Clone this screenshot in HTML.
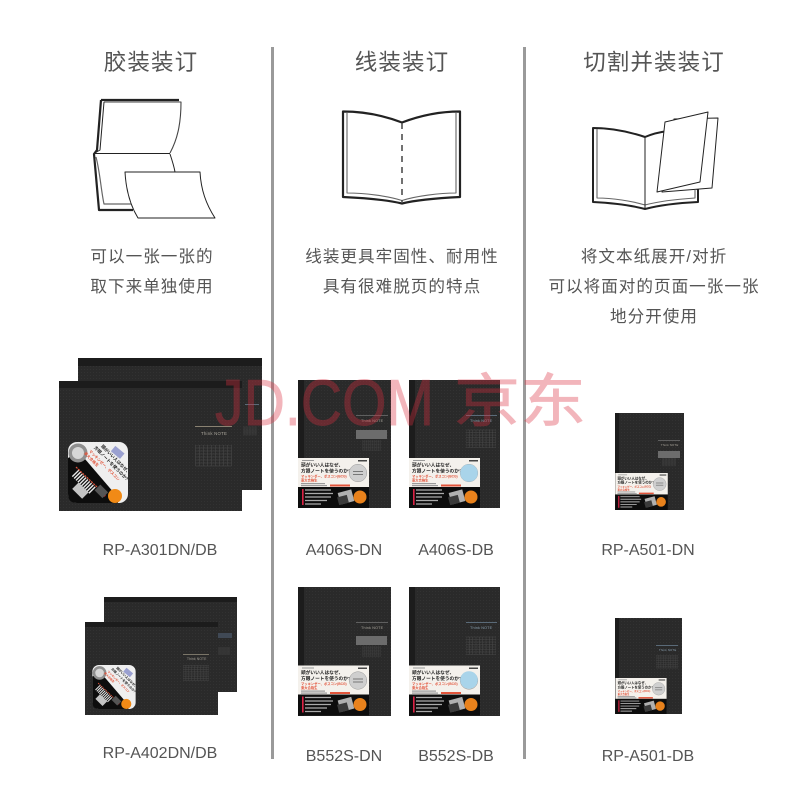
<!DOCTYPE html>
<html lang="zh">
<head>
<meta charset="utf-8">
<title>装订方式</title>
<style>
html,body{margin:0;padding:0;background:#fff}
svg{display:block}
text{font-family:"Liberation Sans","Noto Sans CJK SC",sans-serif;fill:#4a4a4a;text-anchor:middle}
.t{font-size:22.5px;letter-spacing:1.1px;fill:#555}
.d{font-size:16.6px;letter-spacing:1px;fill:#555}
.m{font-size:16px;fill:#555}
.n{font-size:3.7px;letter-spacing:.2px;fill:#a8a49a;text-anchor:start}
.b{text-anchor:start;font-weight:700;fill:#1c1c1c}
.r{text-anchor:start;font-weight:700;fill:#e2543b}
.w{text-anchor:start;fill:#ddd}
.wm{fill:#dc2f40;stroke:#dc2f40;stroke-width:.9;text-anchor:start}
</style>
</head>
<body>
<svg width="800" height="800" viewBox="0 0 800 800" xmlns="http://www.w3.org/2000/svg">
<defs>
<filter id="soft" x="-2%" y="-2%" width="104%" height="104%"><feGaussianBlur stdDeviation=".35"/></filter>
<pattern id="g" width="3" height="3" patternUnits="userSpaceOnUse"><rect width="3" height="3" fill="#2c2c2c"/><rect width="1" height="1" fill="#303030"/></pattern>
<symbol id="sticker" viewBox="0 0 60 61">
  <rect width="60" height="61" rx="9" fill="#efefef"/>
  <path d="M0 16 L5 13 L17 17 L47 52 L50 61 H9 Q0 61 0 52Z" fill="#111"/>
  <circle cx="10" cy="11" r="9.500" fill="#8f8f8f"/><circle cx="10" cy="11" r="6" fill="#d6d6d6"/>
  <g transform="rotate(45 32 8)">
    <text class="b" x="30" y="5" font-size="4.4">頭がいい人はなぜ、</text>
    <text class="b" x="26" y="11" font-size="4.4">方眼ノートを使うのか?</text>
    <text class="r" x="25" y="17" font-size="3.8">マッキンゼー、ボスコン</text>
    <text class="r" x="23" y="22" font-size="3.8">東大合格生</text>
  </g>
  <rect x="44" y="7" width="12" height="7" fill="#9aa0d0" transform="rotate(40 50 10)"/>
  <path d="M8 25 L29 45" stroke="#e2543b" stroke-width="1.2" stroke-dasharray="2 1"/>
  <path d="M7 31 L25 49" stroke="#e8e8e8" stroke-width="9" stroke-dasharray="1.4 1.2"/>
  <circle cx="47" cy="54" r="7" fill="#f18a12"/>
  <circle cx="36" cy="53" r="1.6" fill="#e33"/>
  <rect x="5" y="44" width="14" height="9" fill="#c4c4c4" transform="rotate(45 12 49)"/>
  <rect x="28" y="45" width="11" height="8" fill="#555" transform="rotate(45 33 49)"/>
</symbol>
<symbol id="band" viewBox="0 0 71 50">
  <rect width="71" height="29" fill="#f4f1ec"/>
  <rect y="29" width="71" height="21" fill="#111"/>
  <rect x="4" y="2" width="12" height="1" fill="#999"/>
  <rect x="60" y="2" width="9" height="1.500" fill="#444"/>
  <text class="b" x="3" y="8.500" font-size="4.7">頭がいい人はなぜ、</text>
  <text class="b" x="3" y="14.500" font-size="4.7">方眼ノートを使うのか?</text>
  <text class="r" x="3" y="19.500" font-size="3.300">マッキンゼー、ボスコン(BCG)</text>
  <text class="r" x="3" y="23.400" font-size="3.300">東大合格生</text>
  <rect x="3" y="25" width="24" height="1.200" fill="#999"/>
  <rect x="3" y="27" width="26" height="1.200" fill="#999"/>
  <rect x="32" y="26.500" width="20" height="2" fill="#e2543b"/>
  <circle cx="60" cy="15" r="8.800" fill="#cfcfcf" stroke="#999" stroke-width=".5"/>
  <rect x="55" y="13" width="10" height="1" fill="#777"/>
  <rect x="55" y="16" width="10" height="1" fill="#777"/>
  <rect x="4" y="31" width="1.600" height="16" fill="#d24"/>
  <path d="M7 32h26M7 35.500h28M7 39h26M7 42.500h22M7 46h16" stroke="#aaa" stroke-width="1.300"/>
  <rect x="41" y="33" width="14" height="12" fill="#b0b0b0" transform="rotate(-15 48 39)"/>
  <rect x="40" y="38" width="10" height="8" fill="#3b3b3b" transform="rotate(-15 45 42)"/>
  <circle cx="62" cy="39" r="6.500" fill="#e9821a"/>
</symbol>
<symbol id="grid" viewBox="0 0 36 24">
  <g opacity=".5">
  <path d="M0 0h36M0 3h36M0 6h36M0 9h36M0 12h36M0 15h36M0 18h36M0 21h36" stroke="#6b6b6b" stroke-width=".5"/>
  <path d="M0 0v21M4 0v21M8 0v21M12 0v21M16 0v21M20 0v21M24 0v21M28 0v21M32 0v21M36 0v21" stroke="#6b6b6b" stroke-width=".5"/>
  </g>
</symbol>
</defs>

<rect width="800" height="800" fill="#fff"/>

<!-- dividers -->
<rect x="271" y="47" width="3" height="712" fill="#9a9a9a"/>
<rect x="523" y="47" width="3" height="712" fill="#9a9a9a"/>

<!-- titles -->
<text class="t" x="151" y="70">胶装装订</text>
<text class="t" x="402" y="70">线装装订</text>
<text class="t" x="654" y="70">切割并装装订</text>

<!-- icon 1 -->
<g fill="none" stroke="#222" stroke-linejoin="round">
  <path d="M101 100 H179 M101 100 L97 150 L94 154 L99 210 H133" stroke-width="2.200"/>
  <path d="M104 102 H181 C181 125 177 140 170 153" stroke="#444" stroke-width="1.100"/>
  <path d="M104 102 L100 150 L94 153.500 H170" stroke-width="1"/>
  <path d="M96 157 C100 172 101 190 104 204 H131" stroke="#666" stroke-width="1.200"/>
  <path d="M170 154 C172 160 174 166 175 172" stroke-width="1"/>
  <path d="M125 172 H200 C201 190 206 204 215 218 H138 C130 205 126 190 125 172Z" fill="#fff" stroke-width="1"/>
</g>

<!-- icon 2 -->
<g fill="none" stroke="#222" stroke-linejoin="round">
  <path d="M343 111.500 C365 111.500 385 116 402 122.500 C419 116 440 111.500 460 111.500 V197 C440 198 418 199.500 402 203.500 C385 199.500 365 198 343 197Z" stroke-width="2.200" fill="#fff"/>
  <path d="M347 113 V193 C365 193 388 196 402 200.500 C416 196 440 193 456 193 V113" stroke="#666" stroke-width="1.100"/>
  <path d="M402 123 V202" stroke="#444" stroke-width="1.500" stroke-dasharray="6 5"/>
</g>

<!-- icon 3 -->
<g fill="none" stroke="#222" stroke-linejoin="round">
  <path d="M593 128 C612 128 630 132 645 137 C652 134 660 132 668 131 L698 190 V202 C678 203 660 205 645 209 C630 205 612 203 593 202Z" stroke-width="2" fill="#fff"/>
  <path d="M597 129 V198 C612 198 632 201 645 205 C660 201 680 199 695 198 V190" stroke="#666" stroke-width="1.100"/>
  <path d="M645 137 V208" stroke-width="1"/>
  <path d="M674 119 L718 118 L712 188 L662 192Z" fill="#fff" stroke-width="1"/>
  <path d="M665 122 L708 112 L700 182 L657 192Z" fill="#fff" stroke-width="1"/>
</g>

<!-- descriptions -->
<text class="d" x="152" y="262">可以一张一张的</text>
<text class="d" x="152" y="292">取下来单独使用</text>
<text class="d" x="402" y="262">线装更具牢固性、耐用性</text>
<text class="d" x="402" y="292">具有很难脱页的特点</text>
<text class="d" x="654" y="262">将文本纸展开/对折</text>
<text class="d" x="654" y="292">可以将面对的页面一张一张</text>
<text class="d" x="654" y="322">地分开使用</text>

<g filter="url(#soft)">
<!-- RP-A301 -->
<g>
  <rect x="78" y="358" width="184" height="132" fill="url(#g)"/>
  <rect x="78" y="358" width="184" height="8" fill="#1c1c1c"/>
  <rect x="245" y="404" width="14" height="1" fill="#5a6a78"/>
  <use href="#grid" x="243" y="424" width="14" height="15"/>
  <rect x="59" y="381" width="183" height="130" fill="url(#g)"/>
  <rect x="59" y="381" width="183" height="7" fill="#1c1c1c"/>
  <rect x="195" y="426" width="37" height="1" fill="#8a8272"/>
  <text class="n" x="201" y="435" style="font-size:4.400px">Think NOTE</text>
  <use href="#grid" x="195" y="445" width="37" height="24"/>
  <use href="#sticker" x="67" y="442" width="62" height="61"/>
</g>

<!-- RP-A402 -->
<g>
  <rect x="104" y="597" width="133" height="95" fill="url(#g)"/>
  <rect x="104" y="597" width="133" height="5" fill="#1c1c1c"/>
  <rect x="218" y="633" width="14" height="5" fill="#3f4a55"/>
  <use href="#grid" x="218" y="644" width="12" height="15"/>
  <rect x="85" y="622" width="133" height="93" fill="url(#g)"/>
  <rect x="85" y="622" width="133" height="5" fill="#1c1c1c"/>
  <rect x="183" y="654" width="26" height="1" fill="#7a7468"/>
  <text class="n" x="187" y="660" style="font-size:3.200px">Think NOTE</text>
  <use href="#grid" x="183" y="665" width="26" height="18"/>
  <use href="#sticker" x="92" y="665" width="44" height="44"/>
</g>

<!-- A406 DN -->
<g>
  <rect x="298" y="380" width="93" height="128" fill="url(#g)"/>
  <rect x="298" y="380" width="6" height="128" fill="#1e1e1e"/>
  <rect x="356" y="415" width="32" height="1" fill="#5e5e5e"/>
  <text class="n" x="361" y="422">Think NOTE</text>
  <rect x="356" y="430" width="31" height="9" fill="#6c6c6c"/>
  <use href="#grid" x="356" y="440" width="31" height="12"/>
  <use href="#band" x="298" y="458" width="71" height="50"/>
</g>
<!-- A406 DB -->
<g>
  <rect x="409" y="380" width="91" height="128" fill="url(#g)"/>
  <rect x="409" y="380" width="6" height="128" fill="#1e1e1e"/>
  <rect x="466" y="415" width="31" height="1" fill="#5a6a78"/>
  <text class="n" x="470" y="422" style="fill:#8aa0b0">Think NOTE</text>
  <use href="#grid" x="466" y="429" width="30" height="22"/>
  <use href="#band" x="409" y="458" width="71" height="50"/>
  <circle cx="469" cy="473" r="8.800" fill="#a9d4ea"/>
</g>
<!-- B552 DN -->
<g>
  <rect x="298" y="587" width="93" height="129" fill="url(#g)"/>
  <rect x="298" y="587" width="6" height="129" fill="#1e1e1e"/>
  <rect x="356" y="622" width="32" height="1" fill="#5e5e5e"/>
  <text class="n" x="361" y="629">Think NOTE</text>
  <rect x="356" y="636" width="31" height="9" fill="#6c6c6c"/>
  <use href="#grid" x="356" y="646" width="31" height="12"/>
  <use href="#band" x="298" y="665" width="71" height="51"/>
</g>
<!-- B552 DB -->
<g>
  <rect x="409" y="587" width="91" height="129" fill="url(#g)"/>
  <rect x="409" y="587" width="6" height="129" fill="#1e1e1e"/>
  <rect x="466" y="622" width="31" height="1" fill="#5a6a78"/>
  <text class="n" x="470" y="629" style="fill:#8aa0b0">Think NOTE</text>
  <use href="#grid" x="466" y="636" width="30" height="22"/>
  <use href="#band" x="409" y="665" width="71" height="51"/>
  <circle cx="469" cy="680" r="8.800" fill="#a9d4ea"/>
</g>
<!-- A501 DN -->
<g>
  <rect x="615" y="413" width="69" height="97" fill="url(#g)"/>
  <rect x="615" y="413" width="4" height="97" fill="#1e1e1e"/>
  <rect x="658" y="440" width="22" height="1" fill="#5e5e5e"/>
  <text class="n" x="661" y="446" style="font-size:2.800px">Think NOTE</text>
  <rect x="658" y="451" width="22" height="7" fill="#6c6c6c"/>
  <use href="#grid" x="658" y="458" width="22" height="9"/>
  <use href="#band" x="615" y="473" width="53" height="37"/>
</g>
<!-- A501 DB -->
<g>
  <rect x="615" y="618" width="67" height="96" fill="url(#g)"/>
  <rect x="615" y="618" width="4" height="96" fill="#1e1e1e"/>
  <rect x="656" y="645" width="22" height="1" fill="#5a6a78"/>
  <text class="n" x="659" y="651" style="font-size:2.800px;fill:#8aa0b0">Think NOTE</text>
  <use href="#grid" x="656" y="655" width="22" height="15"/>
  <use href="#band" x="615" y="678" width="52" height="36"/>
</g>
</g>

<!-- model labels -->
<text class="m" x="160" y="555">RP-A301DN/DB</text>
<text class="m" x="344" y="555">A406S-DN</text>
<text class="m" x="456" y="555">A406S-DB</text>
<text class="m" x="648" y="555">RP-A501-DN</text>
<text class="m" x="160" y="758">RP-A402DN/DB</text>
<text class="m" x="344" y="761">B552S-DN</text>
<text class="m" x="456" y="761">B552S-DB</text>
<text class="m" x="648" y="761">RP-A501-DB</text>

<!-- watermark -->
<g opacity=".35">
<text class="wm" x="215" y="425" style="font-size:65px" textLength="219" lengthAdjust="spacingAndGlyphs">JD.COM</text>
<text class="wm" transform="translate(454 421) scale(1 .88)" x="0" y="0" style="font-size:65px" textLength="132" lengthAdjust="spacingAndGlyphs">京东</text>
</g>
</svg>
</body>
</html>
